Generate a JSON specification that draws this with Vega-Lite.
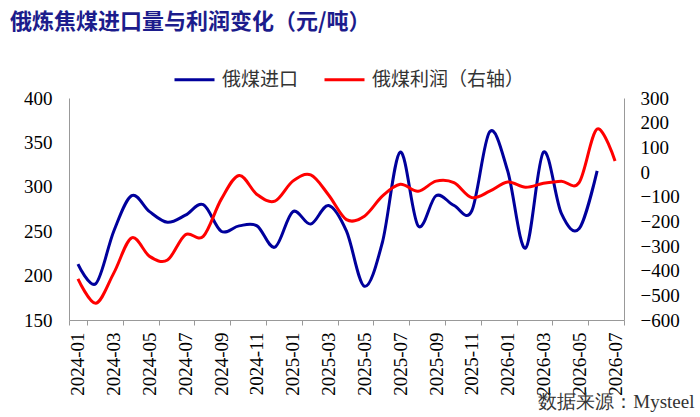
{
  "$schema": "https://vega.github.io/schema/vega-lite/v6.json",
  "description": "俄炼焦煤进口量与利润变化",
  "width": 555,
  "height": 222,
  "autosize": "none",
  "padding": {"left": 69, "top": 98, "right": 76, "bottom": 97},
  "background": "white",
  "title": {
    "text": "俄炼焦煤进口量与利润变化（元/吨）",
    "anchor": "start",
    "frame": "group",
    "font": "Noto Sans CJK SC",
    "fontSize": 22,
    "fontWeight": "bold",
    "color": "#1c1c8c",
    "dx": -59,
    "dy": -4,
    "offset": 20
  },
  "data": {
    "values": [
      {"month": "2024-01", "import": 213, "profit": -433},
      {"month": "2024-02", "import": 191, "profit": -532},
      {"month": "2024-03", "import": 250, "profit": -410},
      {"month": "2024-04", "import": 290, "profit": -267},
      {"month": "2024-05", "import": 272, "profit": -342},
      {"month": "2024-06", "import": 260, "profit": -357},
      {"month": "2024-07", "import": 268, "profit": -254},
      {"month": "2024-08", "import": 280, "profit": -261},
      {"month": "2024-09", "import": 250, "profit": -111},
      {"month": "2024-10", "import": 256, "profit": -14},
      {"month": "2024-11", "import": 256, "profit": -91},
      {"month": "2024-12", "import": 232, "profit": -118},
      {"month": "2025-01", "import": 272, "profit": -37},
      {"month": "2025-02", "import": 258, "profit": -12},
      {"month": "2025-03", "import": 279, "profit": -93},
      {"month": "2025-04", "import": 250, "profit": -193},
      {"month": "2025-05", "import": 188, "profit": -179},
      {"month": "2025-06", "import": 237, "profit": -98},
      {"month": "2025-07", "import": 339, "profit": -50},
      {"month": "2025-08", "import": 256, "profit": -78},
      {"month": "2025-09", "import": 290, "profit": -37},
      {"month": "2025-10", "import": 279, "profit": -43},
      {"month": "2025-11", "import": 273, "profit": -104},
      {"month": "2025-12", "import": 362, "profit": -78},
      {"month": "2026-01", "import": 318, "profit": -41},
      {"month": "2026-02", "import": 231, "profit": -62},
      {"month": "2026-03", "import": 339, "profit": -46},
      {"month": "2026-04", "import": 270, "profit": -37},
      {"month": "2026-05", "import": 253, "profit": -42},
      {"month": "2026-06", "import": 318, "profit": 174},
      {"month": "2026-07", "import": null, "profit": 45}
    ]
  },
  "encoding": {
    "x": {
      "field": "month",
      "type": "ordinal",
      "bandPosition": 0.5,
      "scale": {"type": "band", "paddingInner": 0, "paddingOuter": 0},
      "axis": {
        "values": ["2024-01", "2024-03", "2024-05", "2024-07", "2024-09", "2024-11",
                   "2025-01", "2025-03", "2025-05", "2025-07", "2025-09", "2025-11",
                   "2026-01", "2026-03", "2026-05", "2026-07"],
        "labelAngle": 270,
        "tickBand": "extent",
        "ticks": true,
        "tickSize": 5,
        "tickColor": "#999999",
        "labelPadding": 7,
        "title": "数据来源：Mysteel",
        "titleX": 625,
        "titleY": 87,
        "titleAlign": "right",
        "titleBaseline": "alphabetic",
        "titleFont": "Liberation Serif",
        "titleFontSize": 19,
        "titleFontWeight": "normal",
        "titleColor": "#333333"
      }
    }
  },
  "layer": [
    {
      "mark": {"type": "line", "interpolate": "cardinal", "strokeWidth": 3},
      "encoding": {
        "y": {
          "field": "import",
          "type": "quantitative",
          "scale": {"domain": [150, 400], "nice": false, "zero": false},
          "axis": {
            "orient": "left",
            "values": [150, 200, 250, 300, 350, 400],
            "title": null,
            "labelPadding": 17
          }
        },
        "color": {
          "datum": "俄煤进口",
          "scale": {
            "domain": ["俄煤进口", "俄煤利润（右轴）"],
            "range": ["#00009c", "#ff0000"]
          },
          "legend": {
            "orient": "none",
            "legendX": 104,
            "legendY": -40,
            "direction": "horizontal",
            "title": null,
            "symbolType": "stroke",
            "symbolSize": 1600,
            "symbolStrokeWidth": 3,
            "labelFont": "Noto Sans CJK SC",
            "labelFontSize": 19,
            "labelColor": "#333333",
            "labelOffset": 6,
            "columnPadding": 19
          }
        }
      }
    },
    {
      "mark": {"type": "line", "interpolate": "cardinal", "strokeWidth": 3},
      "encoding": {
        "y": {
          "field": "profit",
          "type": "quantitative",
          "scale": {"domain": [-600, 300], "nice": false},
          "axis": {
            "orient": "right",
            "values": [-600, -500, -400, -300, -200, -100, 0, 100, 200, 300],
            "title": null,
            "labelPadding": 16
          }
        },
        "color": {"datum": "俄煤利润（右轴）"}
      }
    }
  ],
  "resolve": {"scale": {"y": "independent"}},
  "config": {
    "view": {"stroke": null},
    "axis": {
      "grid": false,
      "ticks": false,
      "domainColor": "#999999",
      "domainWidth": 1,
      "labelFont": "Liberation Serif",
      "labelFontSize": 19,
      "labelColor": "#000000"
    }
  }
}
